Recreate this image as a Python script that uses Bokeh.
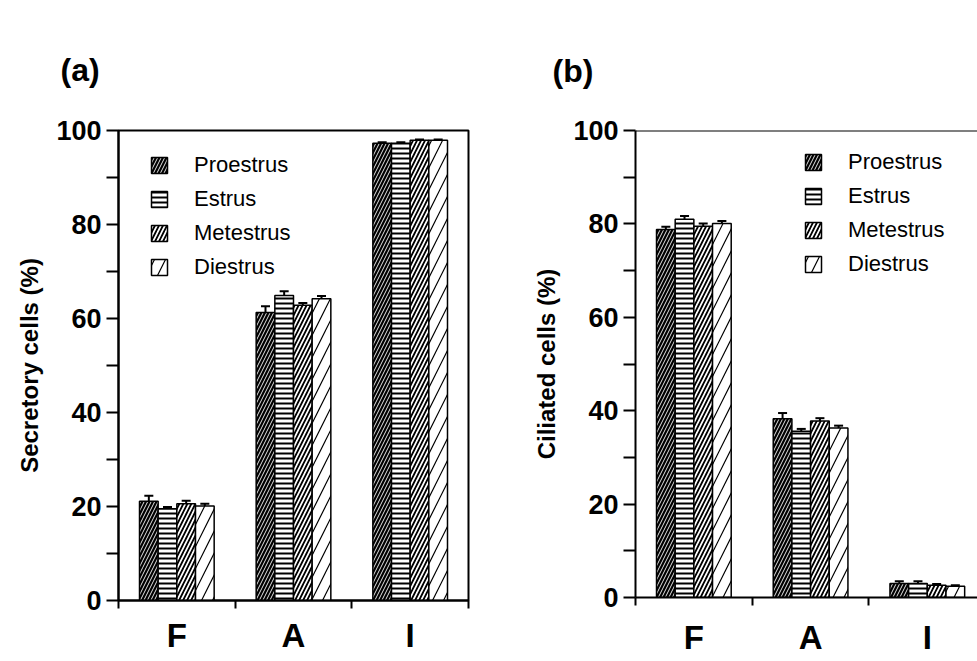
from bokeh.plotting import figure
from bokeh.models import (ColumnDataSource, FixedTicker, Whisker, TeeHead, Legend,
                          LegendItem, Span, Range1d)
from bokeh.transform import dodge
from bokeh.layouts import row
from bokeh.embed import file_html
from bokeh.resources import INLINE

# ---------------- data ----------------
categories = ["F", "A", "I"]
phases = ["Proestrus", "Estrus", "Metestrus", "Diestrus"]
y_ticks = [0, 20, 40, 60, 80, 100]
y_minor = [10, 30, 50, 70, 90]

# (a) Secretory cells (%)
sec_proestrus = [21.1, 61.3, 97.3]
sec_estrus = [19.5, 64.9, 97.3]
sec_metestrus = [20.6, 62.8, 97.9]
sec_diestrus = [20.1, 64.2, 97.9]
sec_proestrus_err = [1.2, 1.3, 0.2]
sec_estrus_err = [0.4, 0.9, 0.2]
sec_metestrus_err = [0.6, 0.5, 0.2]
sec_diestrus_err = [0.5, 0.6, 0.2]

# (b) Ciliated cells (%)
cil_proestrus = [78.8, 38.3, 3.0]
cil_estrus = [81.0, 35.6, 3.0]
cil_metestrus = [79.5, 37.8, 2.6]
cil_diestrus = [80.1, 36.3, 2.4]
cil_proestrus_err = [0.6, 1.2, 0.5]
cil_estrus_err = [0.7, 0.5, 0.5]
cil_metestrus_err = [0.6, 0.6, 0.3]
cil_diestrus_err = [0.5, 0.5, 0.2]

FONT = "Liberation Sans"

styles = {
    "Proestrus": dict(fill_color="black", hatch_pattern="/", hatch_color="white",
                      hatch_scale=7, hatch_weight=0.9),
    "Estrus": dict(fill_color="white", hatch_pattern="-", hatch_color="black",
                   hatch_scale=5, hatch_weight=2),
    "Metestrus": dict(fill_color="white", hatch_pattern="/", hatch_color="black",
                      hatch_scale=8, hatch_weight=1.8),
    "Diestrus": dict(fill_color="white", hatch_pattern="/", hatch_color="black",
                     hatch_scale=22, hatch_weight=1.2),
}
offsets = [-0.24, -0.08, 0.08, 0.24]
BAR_W = 0.16


def make_panel(series, errs, ylabel, tag, fw, fh, mb_left, mb_right, mb_top, mb_bottom,
               x_end, label_standoff, legend_loc, tag_offset, tag_standoff, outline):
    p = figure(frame_width=fw, frame_height=fh, x_range=Range1d(0, x_end),
               y_range=Range1d(0, 100), output_backend="svg", toolbar_location=None,
               min_border_left=mb_left, min_border_right=mb_right,
               min_border_top=mb_top, min_border_bottom=mb_bottom)
    p.background_fill_color = "white"
    p.border_fill_color = "white"
    p.xgrid.visible = False
    p.ygrid.visible = False
    if outline:
        p.outline_line_color = "black"
        p.outline_line_width = 2
    else:
        p.outline_line_color = None
        p.add_layout(Span(location=100, dimension="width", line_color="black", line_width=2))

    # panel tag as title
    p.title.text = tag
    p.title.align = "left"
    p.title.vertical_align = "top"
    p.title.offset = tag_offset
    p.title.standoff = tag_standoff
    p.title.text_font = FONT
    p.title.text_font_style = "bold"
    p.title.text_font_size = "32px"
    p.title.text_color = "black"

    xc = [i + 0.5 for i in range(len(categories))]
    items = []
    for k, name in enumerate(phases):
        src = ColumnDataSource(dict(x=xc, top=series[k],
                                    upper=[v + e for v, e in zip(series[k], errs[k])]))
        r = p.vbar(x=dodge("x", offsets[k]), top="top", bottom=0, width=BAR_W, source=src,
                   line_color="black", line_width=1.5, **styles[name])
        w = Whisker(source=src, base=dodge("x", offsets[k]), lower="top", upper="upper",
                    upper_head=TeeHead(size=9, line_width=2, line_color="black"),
                    lower_head=None, line_width=2, line_color="black")
        p.add_layout(w)
        items.append(LegendItem(label=name, renderers=[r]))

    leg = Legend(items=items, location=legend_loc, glyph_width=20, glyph_height=20,
                 label_height=25, spacing=8, padding=0, margin=0, label_standoff=25,
                 border_line_color=None, background_fill_alpha=0,
                 label_text_font=FONT, label_text_font_size="22px", label_text_color="black")
    p.add_layout(leg)

    # y axis
    ya = p.yaxis[0]
    ya.ticker = FixedTicker(ticks=y_ticks, minor_ticks=y_minor)
    ya.axis_label = ylabel
    ya.axis_label_text_font = FONT
    ya.axis_label_text_font_style = "bold"
    ya.axis_label_text_font_size = "24px"
    ya.axis_label_text_color = "black"
    ya.axis_label_standoff = 10
    ya.major_label_text_font = FONT
    ya.major_label_text_font_style = "bold"
    ya.major_label_text_font_size = "27px"
    ya.major_label_text_color = "black"
    ya.major_label_standoff = 5
    ya.major_tick_out = 12
    ya.minor_tick_out = 12
    ya.major_tick_in = 0
    ya.minor_tick_in = 0
    ya.axis_line_width = 2
    ya.axis_line_color = "black"
    ya.major_tick_line_width = 2
    ya.minor_tick_line_width = 2
    ya.major_tick_line_color = "black"
    ya.minor_tick_line_color = "black"

    # x axis
    xa = p.xaxis[0]
    xa.ticker = FixedTicker(ticks=xc, minor_ticks=list(range(len(categories) + 1)))
    xa.major_label_overrides = {c: lab for c, lab in zip(xc, categories)}
    xa.major_label_text_font = FONT
    xa.major_label_text_font_style = "bold"
    xa.major_label_text_font_size = "33px"
    xa.major_label_text_color = "black"
    xa.major_label_standoff = label_standoff
    xa.major_tick_out = 0
    xa.major_tick_in = 0
    xa.minor_tick_out = 8
    xa.minor_tick_in = 0
    xa.axis_line_width = 2
    xa.axis_line_color = "black"
    xa.minor_tick_line_width = 2
    xa.minor_tick_line_color = "black"
    return p


pa = make_panel([sec_proestrus, sec_estrus, sec_metestrus, sec_diestrus],
                [sec_proestrus_err, sec_estrus_err, sec_metestrus_err, sec_diestrus_err],
                "Secretory cells (%)", "(a)", 350, 470, 118, 52, 130, 61, 3.0, 8,
                (31, 320), -58, 81, True)
pb = make_panel([cil_proestrus, cil_estrus, cil_metestrus, cil_diestrus],
                [cil_proestrus_err, cil_estrus_err, cil_metestrus_err, cil_diestrus_err],
                "Ciliated cells (%)", "(b)", 342, 467, 115, 0, 128, 66, 2.93, 13,
                (168, 320), -83, 79, False)

layout = row(pa, pb)
open("out.html", "w").write(file_html(layout, INLINE))
